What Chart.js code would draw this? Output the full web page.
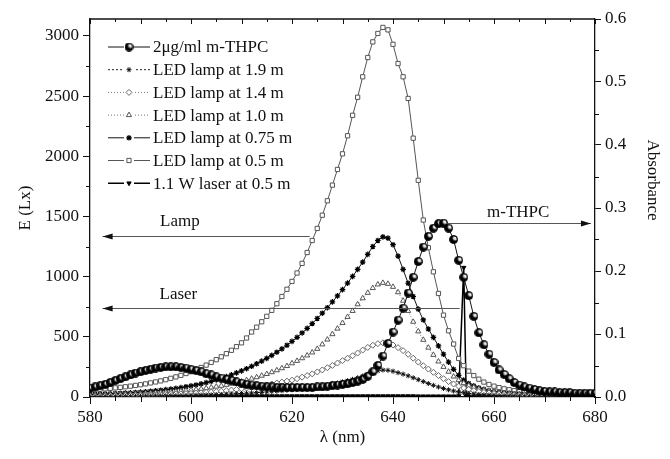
<!DOCTYPE html>
<html><head><meta charset="utf-8">
<script src="https://cdn.jsdelivr.net/npm/chart.js@4/dist/chart.umd.min.js"></script>
<style>html,body{margin:0;padding:0;background:#fff}#wrap{width:670px;height:459px;position:relative}</style>
</head><body><div id="wrap"><canvas id="c" width="670" height="459"></canvas></div>
<script>
// ---------- DATA ----------
const wavelengths = [580,581,582,583,584,585,586,587,588,589,590,591,592,593,594,595,596,597,598,599,600,601,602,603,604,605,606,607,608,609,610,611,612,613,614,615,616,617,618,619,620,621,622,623,624,625,626,627,628,629,630,631,632,633,634,635,636,637,638,639,640,641,642,643,644,645,646,647,648,649,650,651,652,653,654,655,656,657,658,659,660,661,662,663,664,665,666,667,668,669,670,671,672,673,674,675,676,677,678,679,680];

// m-THPC absorbance (right axis)
const mTHPC = [0.014,0.016,0.018,0.020,0.023,0.026,0.029,0.032,0.035,0.038,
0.040,0.042,0.044,0.046,0.047,0.048,0.048,0.048,0.047,0.046,
0.044,0.042,0.040,0.037,0.035,0.032,0.030,0.028,0.026,0.024,
0.022,0.020,0.019,0.018,0.017,0.016,0.016,0.015,0.015,0.015,
0.015,0.015,0.015,0.015,0.015,0.016,0.016,0.017,0.018,0.019,
0.020,0.021,0.023,0.025,0.028,0.033,0.040,0.050,0.065,0.085,
0.103,0.122,0.141,0.165,0.190,0.215,0.238,0.255,0.268,0.275,
0.276,0.268,0.250,0.217,0.190,0.161,0.128,0.102,0.083,0.068,
0.055,0.043,0.036,0.029,0.023,0.019,0.016,0.014,0.012,0.010,
0.009,0.008,0.008,0.007,0.007,0.007,0.006,0.006,0.006,0.006,0.006];

// Illuminance E (Lx), left axis
const lamp19 = [4,4,4,5,5,5,6,6,6,7,
7,8,8,9,9,10,11,11,12,13,
14,15,16,17,18,20,21,23,25,27,
29,31,33,36,39,42,45,48,52,56,
60,65,70,75,81,87,94,101,109,117,
126,136,147,160,175,190,205,217,224,222,
214,202,190,176,160,144,128,112,97,83,
71,60,50,42,35,29,25,21,18,16,
14,12,11,10,9,8,7,7,6,6,
5,5,5,4,4,4,4,3,3,3,3];

const lamp14 = [8,8,9,9,10,10,11,12,12,13,
14,15,16,17,18,20,22,24,26,28,
30,32,35,38,41,45,49,53,58,63,
68,74,80,86,93,100,108,116,124,132,
140,152,165,178,192,208,225,243,262,282,
302,322,343,365,390,412,430,443,450,448,
432,410,385,355,322,290,260,232,205,178,
152,128,108,90,75,63,53,45,38,33,
28,24,21,18,16,14,12,11,10,9,
8,7,7,6,6,5,5,5,4,4,4];

const lamp10 = [14,15,16,17,18,19,20,22,23,25,
27,29,31,33,36,39,42,45,49,53,
57,62,67,73,79,86,93,101,110,119,
129,140,152,164,177,191,206,222,239,257,
280,300,322,345,370,400,437,477,522,568,
615,665,715,770,820,865,905,935,948,940,
915,870,800,715,625,545,475,410,350,295,
250,210,170,140,115,95,80,67,57,49,
42,36,31,27,24,21,19,17,15,14,
13,12,11,10,9,9,8,8,7,7,7];

const lamp075 = [22,23,24,25,27,29,31,33,35,38,
41,44,48,52,56,61,66,72,78,85,
92,100,109,119,130,142,155,169,184,200,
217,235,255,276,298,321,346,372,400,430,
462,496,532,570,610,652,696,742,790,840,
892,946,1002,1060,1120,1185,1250,1300,1330,1320,
1265,1170,1060,945,835,730,640,565,495,425,
355,290,230,180,140,112,92,76,63,53,
45,39,34,30,27,24,22,20,18,16,
15,14,13,12,11,10,10,9,9,8,8];

const lamp05 = [60,62,65,68,72,76,80,85,90,96,
102,109,117,125,134,144,155,167,180,195,
210,227,245,265,287,310,334,360,388,418,
450,490,540,580,625,670,720,775,835,895,
960,1030,1110,1200,1300,1400,1510,1630,1760,1890,
2020,2170,2340,2490,2660,2820,2950,3020,3070,3050,
2930,2770,2660,2480,2150,1800,1470,1240,1040,860,
680,550,440,320,260,215,178,148,124,104,
90,78,68,60,53,47,42,37,33,30,
27,24,22,20,18,16,15,14,13,12,11];

const laserWavelengths = [580,581,582,583,584,585,586,587,588,589,590,591,592,593,594,595,596,597,598,599,600,601,602,603,604,605,606,607,608,609,610,611,612,613,614,615,616,617,618,619,620,621,622,623,624,625,626,627,628,629,630,631,632,633,634,635,636,637,638,639,640,641,642,643,644,645,646,647,648,649,650,651,652,653,654,654.5,655,656,657,658,659,660,661,662,663,664,665,666,667,668,669,670,671,672,673,674,675,676,677,678,679,680];
const laserLux = [3,3,3,3,3,4,4,4,4,4,
4,5,5,5,5,5,5,6,6,6,
6,6,6,6,7,7,7,7,7,7,
8,8,8,8,8,8,8,8,8,8,
8,8,8,8,8,8,8,8,8,8,
8,8,8,8,8,8,8,8,8,8,
8,8,8,8,8,7,7,7,7,7,
7,7,7,
8,1075,8,
6,6,6,5,5,5,5,5,5,5,
4,4,4,4,4,4,4,4,4,4,
3,3,3,3,3,3];

const seriesNames = ['2\u03bcg/ml m-THPC','LED lamp at 1.9 m','LED lamp at 1.4 m','LED lamp at 1.0 m','LED lamp at 0.75 m','LED lamp at 0.5 m','1.1 W laser at 0.5 m'];
const xTickLabels = [580,600,620,640,660,680];
const yTickLabels = [0,500,1000,1500,2000,2500,3000];
const y1TickLabels = [0.0,0.1,0.2,0.3,0.4,0.5,0.6];
const annotationTexts = ['Lamp','Laser','m-THPC'];
const axisTitles = {x:'\u03bb (nm)', y:'E (Lx)', y1:'Absorbance'};

// ---------- RENDER ----------
const FONT = "'Liberation Serif','Times New Roman',serif";
Chart.defaults.font.family = FONT;
Chart.defaults.font.size = 17;
Chart.defaults.color = '#111';

function makeBall(d){
  const c=document.createElement('canvas');c.width=d;c.height=d;
  const g=c.getContext('2d');const r=d/2;
  g.fillStyle='#000';g.beginPath();g.arc(r,r,r-0.5,0,Math.PI*2);g.fill();
  const grd=g.createRadialGradient(r*1.35,r*0.7,0.1,r*1.35,r*0.7,r*0.75);
  grd.addColorStop(0,'rgba(255,255,255,1)');grd.addColorStop(0.5,'rgba(220,220,220,0.9)');grd.addColorStop(1,'rgba(60,60,60,0)');
  g.fillStyle=grd;g.beginPath();g.arc(r,r,r-1.2,0,Math.PI*2);g.fill();
  g.strokeStyle='#000';g.lineWidth=1;g.beginPath();g.arc(r,r,r-0.5,0,Math.PI*2);g.stroke();
  return c;
}
const ball = makeBall(9);

function pts(xs, ys){return xs.map((x,i)=>({x:x,y:ys[i]}));}

const datasets = [
 {label:seriesNames[0], data:pts(wavelengths,mTHPC), yAxisID:'y1', borderColor:'#111', borderWidth:1, pointStyle:ball, pointRadius:4.5, backgroundColor:'#000', pointBorderColor:'#000'},
 {label:seriesNames[1], data:pts(wavelengths,lamp19), yAxisID:'y', borderColor:'#222', borderWidth:1, borderDash:[2,2], pointStyle:'star', pointRadius:2.5, pointBorderWidth:1, pointBorderColor:'#111', backgroundColor:'#111'},
 {label:seriesNames[2], data:pts(wavelengths,lamp14), yAxisID:'y', borderColor:'#777', borderWidth:1, borderDash:[1,2], pointStyle:'rectRot', pointRadius:3, pointBorderWidth:1, pointBorderColor:'#666', backgroundColor:'#fff'},
 {label:seriesNames[3], data:pts(wavelengths,lamp10), yAxisID:'y', borderColor:'#777', borderWidth:1, borderDash:[1,2], pointStyle:'triangle', pointRadius:3, pointBorderWidth:1, pointBorderColor:'#555', backgroundColor:'#fff'},
 {label:seriesNames[4], data:pts(wavelengths,lamp075), yAxisID:'y', borderColor:'#111', borderWidth:1, pointStyle:'star', pointRadius:2.8, pointBorderWidth:1.2, pointBorderColor:'#000', backgroundColor:'#000'},
 {label:seriesNames[5], data:pts(wavelengths,lamp05), yAxisID:'y', borderColor:'#555', borderWidth:1, pointStyle:'rect', pointRadius:3, pointBorderWidth:1, pointBorderColor:'#555', backgroundColor:'#fff'},
 {label:seriesNames[6], data:pts(laserWavelengths,laserLux), yAxisID:'y', borderColor:'#000', borderWidth:1.5, pointStyle:'triangle', rotation:180, pointRotation:180, pointRadius:2.5, pointBorderWidth:1, pointBorderColor:'#000', backgroundColor:'#000'}
];
datasets.forEach(d=>{d.pointBackgroundColor=d.backgroundColor;d.fill=false;d.tension=0;});

const annotations = [
 {text:annotationTexts[0], axis:'y', from:[623.5,1337], to:[582.5,1337], label:[597.8,1460]},
 {text:annotationTexts[1], axis:'y', from:[653.2,740], to:[582.5,740], label:[597.5,848]},
 {text:annotationTexts[2], axis:'y1', from:[650.8,0.276], to:[679.2,0.276], label:[664.8,0.293]}
];

const framePlugin = {
  id:'frame',
  afterDatasetsDraw(chart){
    const {ctx, chartArea:a, scales} = chart;
    const sx=scales.x, sy=scales.y, sy1=scales.y1;
    ctx.save();
    ctx.strokeStyle='#111'; ctx.lineWidth=1.3;
    ctx.beginPath(); ctx.moveTo(a.left,a.top); ctx.lineTo(a.right,a.top); ctx.stroke();
    ctx.lineWidth=1;
    ctx.beginPath();
    for(let v=580; v<=680; v+=5){const x=Math.round(sx.getPixelForValue(v))+0.5; const L=(v%10===0)?5:3; ctx.moveTo(x,a.top); ctx.lineTo(x,a.top+L);}
    for(let v=585; v<680; v+=5){ if(v%20===0) continue; const x=Math.round(sx.getPixelForValue(v))+0.5; const L=(v%10===0)?5:4; ctx.moveTo(x,a.bottom); ctx.lineTo(x,a.bottom+L);}
    for(let v=250; v<3140; v+=500){const y=Math.round(sy.getPixelForValue(v))+0.5; ctx.moveTo(a.left,y); ctx.lineTo(a.left-4,y);}
    for(let k=0;k<6;k++){const y=Math.round(sy1.getPixelForValue(0.05+k*0.1))+0.5; ctx.moveTo(a.right,y); ctx.lineTo(a.right+4,y);}
    ctx.stroke();
    // right axis title
    ctx.save();
    ctx.font="17px "+FONT; ctx.fillStyle='#111'; ctx.textAlign='center'; ctx.textBaseline='middle';
    ctx.translate(652,180); ctx.rotate(Math.PI/2); ctx.fillText(axisTitles.y1,0,0);
    ctx.restore();
    // annotations
    ctx.font = "17px "+FONT; ctx.fillStyle='#111'; ctx.textAlign='center'; ctx.textBaseline='middle';
    annotations.forEach(an=>{
      const ys = scales[an.axis];
      const x1=sx.getPixelForValue(an.from[0]), y1=Math.round(ys.getPixelForValue(an.from[1]))+0.5;
      const x2=sx.getPixelForValue(an.to[0]), y2=Math.round(ys.getPixelForValue(an.to[1]))+0.5;
      ctx.strokeStyle='#555'; ctx.lineWidth=1.2;
      ctx.beginPath(); ctx.moveTo(x1,y1); ctx.lineTo(x2,y2); ctx.stroke();
      const dir = Math.sign(x2-x1);
      ctx.fillStyle='#111';
      ctx.beginPath(); ctx.moveTo(x2,y2); ctx.lineTo(x2-dir*10,y2-3); ctx.lineTo(x2-dir*10,y2+3); ctx.closePath(); ctx.fill();
      ctx.fillText(an.text, sx.getPixelForValue(an.label[0]), ys.getPixelForValue(an.label[1]));
    });
    // legend
    const rowY0=47, rowH=22.7, lx0=108, lx1=150, tx=153;
    ctx.textAlign='left';
    chart.data.datasets.forEach((d,i)=>{
      const y=rowY0+i*rowH;
      ctx.save();
      ctx.strokeStyle=d.borderColor; ctx.lineWidth=d.borderWidth; ctx.setLineDash(d.borderDash||[]);
      ctx.beginPath(); ctx.moveTo(lx0,y); ctx.lineTo(lx1,y); ctx.stroke();
      ctx.setLineDash([]);
      const cx=(lx0+lx1)/2;
      ctx.fillStyle='#fff'; ctx.fillRect(cx-5,y-5,10,10);
      if (d.pointStyle instanceof HTMLCanvasElement){ ctx.drawImage(d.pointStyle, cx-d.pointStyle.width/2, y-d.pointStyle.height/2); }
      else if (Chart.helpers && Chart.helpers.drawPoint){
        ctx.fillStyle=d.pointBackgroundColor; ctx.strokeStyle=d.pointBorderColor; ctx.lineWidth=d.pointBorderWidth||1;
        Chart.helpers.drawPoint(ctx,{pointStyle:d.pointStyle, radius:d.pointRadius, rotation:d.pointRotation||0, borderWidth:d.pointBorderWidth||1}, cx, y);
      }
      ctx.restore();
      ctx.fillStyle='#111'; ctx.font="17px "+FONT; ctx.textBaseline='middle';
      ctx.fillText(d.label, tx, y+1);
    });
    ctx.restore();
  }
};

new Chart(document.getElementById('c'), {
  type:'line',
  data:{datasets:datasets},
  options:{
    responsive:false, animation:false, devicePixelRatio:1,
    layout:{padding:{top:19,left:0,right:0,bottom:0}},
    plugins:{legend:{display:false}, tooltip:{enabled:false}},
    elements:{line:{borderJoinStyle:'miter'}},
    scales:{
      x:{type:'linear', position:'bottom', min:580, max:680,
         afterBuildTicks(s){s.ticks = xTickLabels.map(v=>({value:v}));},
         afterFit(s){s.height=62;},
         ticks:{padding:3, maxRotation:0, autoSkip:false, font:{size:17}, callback:v=>String(v), color:'#111'},
         grid:{display:true, drawOnChartArea:false, tickLength:7, color:'#111', tickWidth:1},
         border:{display:true, color:'#111', width:1.3},
         title:{display:true, text:axisTitles.x, font:{size:17}, color:'#111', padding:{top:0,bottom:11}}},
      y:{type:'linear', position:'left', min:0, max:3140,
         afterBuildTicks(s){s.ticks = yTickLabels.map(v=>({value:v}));},
         afterFit(s){s.width=90;},
         ticks:{padding:4, font:{size:17}, color:'#111', callback:v=>String(v)},
         grid:{display:true, drawOnChartArea:false, tickLength:7, color:'#111', tickWidth:1},
         border:{display:true, color:'#111', width:1.3},
         title:{display:true, text:axisTitles.y, font:{size:17}, color:'#111', padding:{top:15,bottom:0}}},
      y1:{type:'linear', position:'right', min:0, max:0.6,
         afterBuildTicks(s){s.ticks = y1TickLabels.map(v=>({value:v}));},
         afterFit(s){s.width=75;},
         ticks:{padding:4, font:{size:17}, color:'#111', callback:v=>Number(v).toFixed(1)},
         grid:{display:true, drawOnChartArea:false, tickLength:6, color:'#111', tickWidth:1},
         border:{display:true, color:'#111', width:1.3},
         title:{display:false}}
    }
  },
  plugins:[framePlugin]
});
</script>
</body></html>
